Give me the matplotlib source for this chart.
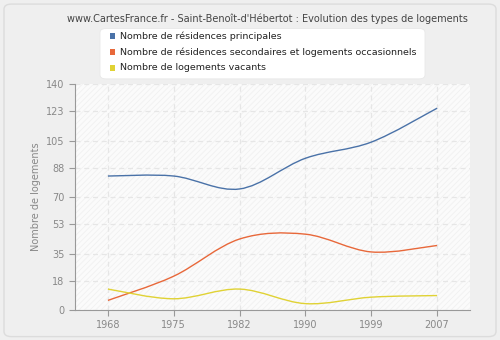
import matplotlib
matplotlib.use("Agg")
import matplotlib.pyplot as plt
import numpy as np
from matplotlib.path import Path
from matplotlib.patches import PathPatch, FancyBboxPatch

years = ["1968", "1975", "1982", "1990", "1999", "2007"]
principales = [83, 83, 75, 94, 104, 125]
secondaires = [6, 21, 44, 47, 36, 40]
vacants = [13, 7, 13, 4, 8, 9]
yticks = [0, 18, 35, 53, 70, 88, 105, 123, 140]

series = [
    ("Nombre de résidences principales", principales, "#4a72a8"),
    ("Nombre de résidences secondaires et logements occasionnels", secondaires, "#e8683a"),
    ("Nombre de logements vacants", vacants, "#e0d234"),
]


def smooth_path(xs, ys, t=1 / 6):
    xs = np.asarray(xs, float)
    ys = np.asarray(ys, float)
    verts = [(xs[0], ys[0])]
    codes = [Path.MOVETO]
    n = len(xs)
    for i in range(n - 1):
        p0 = (xs[max(i - 1, 0)], ys[max(i - 1, 0)])
        p1 = (xs[i], ys[i])
        p2 = (xs[i + 1], ys[i + 1])
        p3 = (xs[min(i + 2, n - 1)], ys[min(i + 2, n - 1)])
        c1 = (p1[0] + (p2[0] - p0[0]) * t, p1[1] + (p2[1] - p0[1]) * t)
        c2 = (p2[0] - (p3[0] - p1[0]) * t, p2[1] - (p3[1] - p1[1]) * t)
        verts += [c1, c2, p2]
        codes += [Path.CURVE4] * 3
    return Path(verts, codes)


fig = plt.figure(figsize=(5, 3.4), dpi=100, facecolor="#efefef")
border = FancyBboxPatch((0.008, 0.01), 0.984, 0.978, boxstyle="round,pad=0,rounding_size=0.015",
                        transform=fig.transFigure, facecolor="#efefef", edgecolor="#dcdcdc",
                        linewidth=1.0, zorder=-5)
fig.patches.append(border)

ax = fig.add_axes([0.15, 0.088, 0.79, 0.665], zorder=2)
ax.set_facecolor("#fbfbfb")
plt.rcParams["hatch.linewidth"] = 0.6
ax.add_patch(plt.Rectangle((0, 0), 1, 1, transform=ax.transAxes, facecolor="none",
                           edgecolor="#f1f1f1", hatch="//////", linewidth=0, zorder=0))

x = np.arange(len(years))
for label, vals, color in series:
    ax.add_patch(PathPatch(smooth_path(x, vals), facecolor="none", edgecolor=color,
                           linewidth=1.0, zorder=3))

ax.set_xlim(-0.5, len(years) - 0.5)
ax.set_ylim(0, 140)
ax.set_xticks(x)
ax.set_xticklabels(years)
ax.set_yticks(yticks)
ax.grid(True, color="#e6e6e6", linestyle=(0, (4, 3)), linewidth=0.9)
ax.set_axisbelow(True)
for s in ("top", "right"):
    ax.spines[s].set_visible(False)
for s in ("left", "bottom"):
    ax.spines[s].set_color("#999999")
ax.tick_params(colors="#999999", labelcolor="#888888", labelsize=7, length=4)
ax.set_ylabel("Nombre de logements", color="#888888", fontsize=7)

fig.text(0.534, 0.946, "www.CartesFrance.fr - Saint-Benoît-d'Hébertot : Evolution des types de logements",
         ha="center", va="center", fontsize=7, color="#444444")

leg_box = FancyBboxPatch((0.2, 0.768), 0.65, 0.148, boxstyle="round,pad=0,rounding_size=0.012",
                         transform=fig.transFigure, facecolor="white", edgecolor="#e8e8e8",
                         linewidth=0.6, zorder=1)
fig.patches.append(leg_box)
for i, (label, vals, color) in enumerate(series):
    yy = 0.894 - i * 0.047
    fig.patches.append(plt.Rectangle((0.219, yy - 0.008), 0.011, 0.016,
                                     transform=fig.transFigure, facecolor=color,
                                     edgecolor="none", zorder=2))
    fig.text(0.24, yy, label, ha="left", va="center", fontsize=6.8, color="#222222")

fig.savefig("out.png", dpi=100, facecolor=fig.get_facecolor())
